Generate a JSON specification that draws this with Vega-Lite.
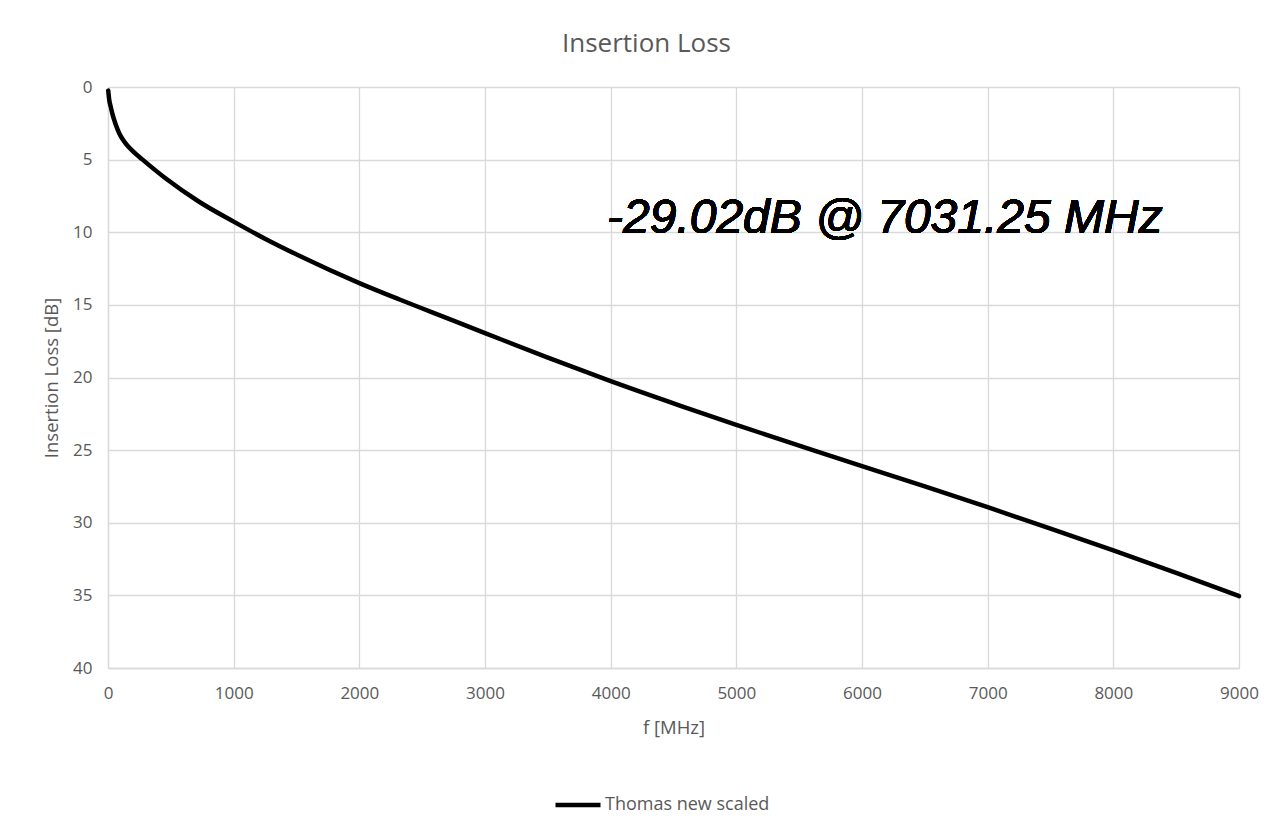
{
  "$schema": "https://vega.github.io/schema/vega-lite/v6.json",
  "autosize": "none",
  "width": 1131,
  "height": 581,
  "padding": {"left": 108, "top": 87, "right": 25, "bottom": 152},
  "background": "#ffffff",
  "config": {
    "font": "Open Sans",
    "view": {"stroke": null},
    "axis": {
      "labelColor": "#595959",
      "titleColor": "#595959",
      "labelFontSize": 17,
      "titleFontSize": 18.5,
      "titleFontWeight": "normal",
      "gridColor": "#d9d9d9",
      "gridWidth": 1.3,
      "domainColor": "#d9d9d9",
      "domainWidth": 1.3,
      "ticks": false,
      "labelFlush": false
    }
  },
  "title": {
    "text": "Insertion Loss",
    "fontSize": 26,
    "fontWeight": "normal",
    "color": "#595959",
    "anchor": "middle",
    "frame": "group",
    "dx": -27,
    "offset": 21
  },
  "data": {
    "values": [
      {"f": 2, "il": 0.25, "series": "Thomas new scaled"},
      {"f": 10, "il": 0.9, "series": "Thomas new scaled"},
      {"f": 20, "il": 1.3, "series": "Thomas new scaled"},
      {"f": 35, "il": 1.85, "series": "Thomas new scaled"},
      {"f": 60, "il": 2.55, "series": "Thomas new scaled"},
      {"f": 90, "il": 3.2, "series": "Thomas new scaled"},
      {"f": 140, "il": 3.88, "series": "Thomas new scaled"},
      {"f": 195, "il": 4.4, "series": "Thomas new scaled"},
      {"f": 275, "il": 5.0, "series": "Thomas new scaled"},
      {"f": 460, "il": 6.3, "series": "Thomas new scaled"},
      {"f": 725, "il": 7.9, "series": "Thomas new scaled"},
      {"f": 1000, "il": 9.27, "series": "Thomas new scaled"},
      {"f": 1257, "il": 10.48, "series": "Thomas new scaled"},
      {"f": 1522, "il": 11.62, "series": "Thomas new scaled"},
      {"f": 2000, "il": 13.5, "series": "Thomas new scaled"},
      {"f": 2320, "il": 14.63, "series": "Thomas new scaled"},
      {"f": 2585, "il": 15.53, "series": "Thomas new scaled"},
      {"f": 3000, "il": 16.94, "series": "Thomas new scaled"},
      {"f": 3490, "il": 18.6, "series": "Thomas new scaled"},
      {"f": 4000, "il": 20.25, "series": "Thomas new scaled"},
      {"f": 4550, "il": 21.93, "series": "Thomas new scaled"},
      {"f": 5000, "il": 23.26, "series": "Thomas new scaled"},
      {"f": 5615, "il": 25.02, "series": "Thomas new scaled"},
      {"f": 6000, "il": 26.1, "series": "Thomas new scaled"},
      {"f": 6500, "il": 27.5, "series": "Thomas new scaled"},
      {"f": 7000, "il": 28.93, "series": "Thomas new scaled"},
      {"f": 7500, "il": 30.4, "series": "Thomas new scaled"},
      {"f": 8000, "il": 31.9, "series": "Thomas new scaled"},
      {"f": 8500, "il": 33.45, "series": "Thomas new scaled"},
      {"f": 9000, "il": 35.05, "series": "Thomas new scaled"}
    ]
  },
  "layer": [
    {
      "mark": {"type": "line", "strokeWidth": 4.5, "interpolate": "monotone", "strokeCap": "round"},
      "encoding": {
        "x": {
          "field": "f",
          "type": "quantitative",
          "scale": {"domain": [0, 9000], "nice": false, "zero": false},
          "axis": {
            "title": "f [MHz]",
            "values": [0, 1000, 2000, 3000, 4000, 5000, 6000, 7000, 8000, 9000],
            "labelPadding": 17,
            "titlePadding": 17,
            "format": "d"
          }
        },
        "y": {
          "field": "il",
          "type": "quantitative",
          "scale": {"domain": [0, 40], "reverse": true, "nice": false},
          "axis": {
            "title": "Insertion Loss [dB]",
            "values": [0, 5, 10, 15, 20, 25, 30, 35, 40],
            "labelPadding": 16,
            "titlePadding": 11
          }
        },
        "color": {
          "field": "series",
          "type": "nominal",
          "scale": {"range": ["#000000"]},
          "legend": {
            "title": null,
            "orient": "none",
            "legendX": 445,
            "legendY": 693,
            "symbolType": "stroke",
            "symbolSize": 2025,
            "symbolStrokeWidth": 4.5,
            "labelFontSize": 18,
            "labelColor": "#595959",
            "labelOffset": 2,
            "labelLimit": 400
          }
        }
      }
    },
    {
      "mark": {
        "type": "text",
        "text": "-29.02dB @ 7031.25 MHz",
        "font": "Liberation Sans",
        "fontStyle": "italic",
        "fontSize": 48,
        "align": "left",
        "baseline": "alphabetic",
        "color": "#000000"
      },
      "encoding": {
        "x": {"datum": 3971},
        "y": {"datum": 10.05}
      }
    }
  ]
}
